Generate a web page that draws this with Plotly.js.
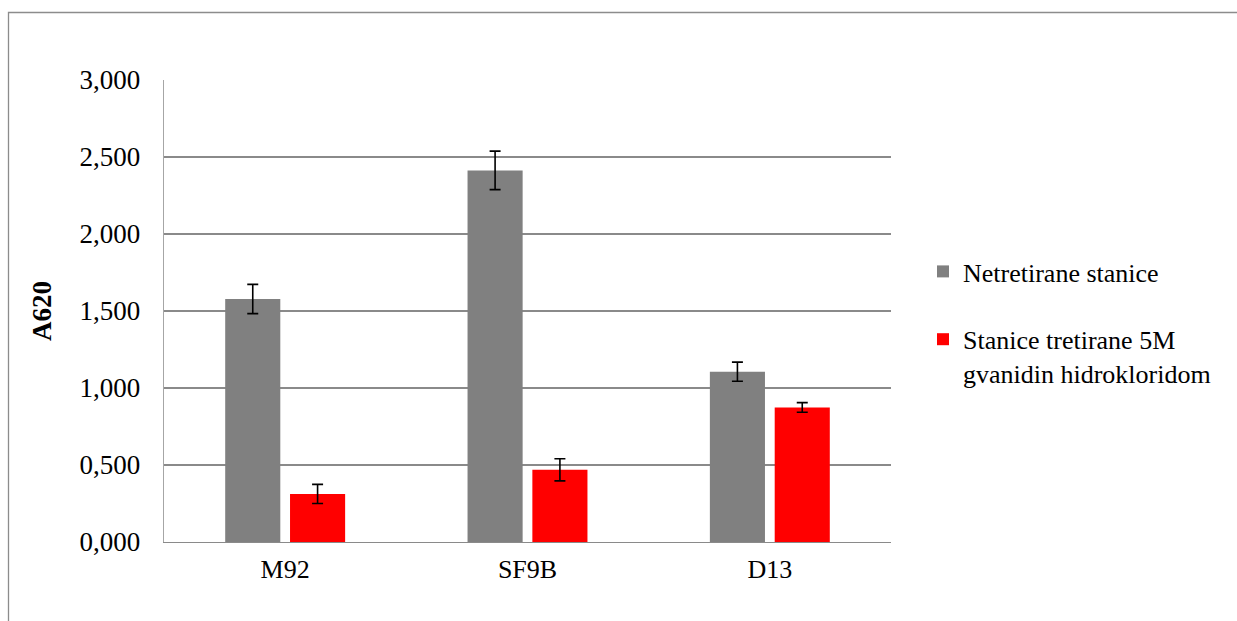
<!DOCTYPE html>
<html>
<head>
<meta charset="utf-8">
<script src="https://cdn.plot.ly/plotly-3.0.1.min.js"></script>
<style>
html,body{margin:0;padding:0;background:#fff;}
#chart{width:1237px;height:621px;}
</style>
</head>
<body>
<div id="chart"></div>
<script>
const categories = ['M92', 'SF9B', 'D13'];
const untreatedName = 'Netretirane stanice';
const treatedName = 'Stanice tretirane 5M<br>gvanidin hidrokloridom';
const untreatedValues = [1.578, 2.413, 1.106];
const untreatedErrors = [0.095, 0.125, 0.062];
const treatedValues = [0.312, 0.469, 0.874];
const treatedErrors = [0.062, 0.072, 0.031];
const yTitle = 'A620';

const FONT = '"Liberation Serif", "Times New Roman", serif';

const traces = [
  {
    type: 'bar',
    name: untreatedName,
    x: categories,
    y: untreatedValues,
    marker: {color: '#808080'},
    error_y: {type: 'data', array: untreatedErrors, visible: true, color: '#000', thickness: 1.6, width: 5.5},
    legendgroup: 'a',
    hoverinfo: 'skip'
  },
  {
    type: 'bar',
    name: treatedName,
    x: categories,
    y: treatedValues,
    marker: {color: '#FF0000'},
    error_y: {type: 'data', array: treatedErrors, visible: true, color: '#000', thickness: 1.6, width: 5.5},
    legendgroup: 'b',
    hoverinfo: 'skip'
  }
];

const L = 164, R = 891, T = 80, B = 542, W = 1237, H = 621;
const pw = R - L, ph = B - T;
const px = v => (v - L) / pw;
const py = v => (B - v) / ph;

const layout = {
  width: W,
  height: H,
  margin: {l: L, r: W - R, t: T, b: H - B, pad: 0},
  paper_bgcolor: '#fff',
  plot_bgcolor: '#fff',
  separators: ',.',
  font: {family: FONT, size: 26, color: '#000'},
  barmode: 'group',
  bargap: 0.465,
  bargroupgap: 0.15,
  showlegend: true,
  legend: {
    x: px(923), xanchor: 'left',
    y: py(248), yanchor: 'top',
    font: {family: FONT, size: 26, color: '#000'},
    tracegroupgap: 31,
    valign: 'top',
    bgcolor: 'rgba(0,0,0,0)'
  },
  xaxis: {
    type: 'category',
    showgrid: false,
    showline: true,
    linecolor: '#8a8a8a',
    linewidth: 1.3,
    ticks: '',
    ticklabelstandoff: 3,
    tickfont: {family: FONT, size: 26, color: '#000'},
    zeroline: false
  },
  yaxis: {
    range: [0, 3],
    dtick: 0.5,
    tick0: 0,
    tickformat: '.3f',
    showgrid: true,
    gridcolor: '#8a8a8a',
    gridwidth: 1.3,
    showline: true,
    linecolor: '#a6a6a6',
    linewidth: 1.3,
    zeroline: false,
    ticks: '',
    ticklabelstandoff: 17,
    tickfont: {family: FONT, size: 27, color: '#000'},
    title: {text: '<b>' + yTitle + '</b>', font: {family: FONT, size: 27, color: '#000'}, standoff: 20}
  },
  shapes: [
    {
      type: 'rect', xref: 'paper', yref: 'paper',
      x0: px(8.5), x1: px(1245), y0: py(630), y1: py(12.5),
      line: {color: '#8c8c8c', width: 1.3},
      fillcolor: 'rgba(0,0,0,0)',
      layer: 'below'
    }
  ]
};

Plotly.newPlot('chart', traces, layout, {displayModeBar: false, staticPlot: true});
</script>
</body>
</html>
